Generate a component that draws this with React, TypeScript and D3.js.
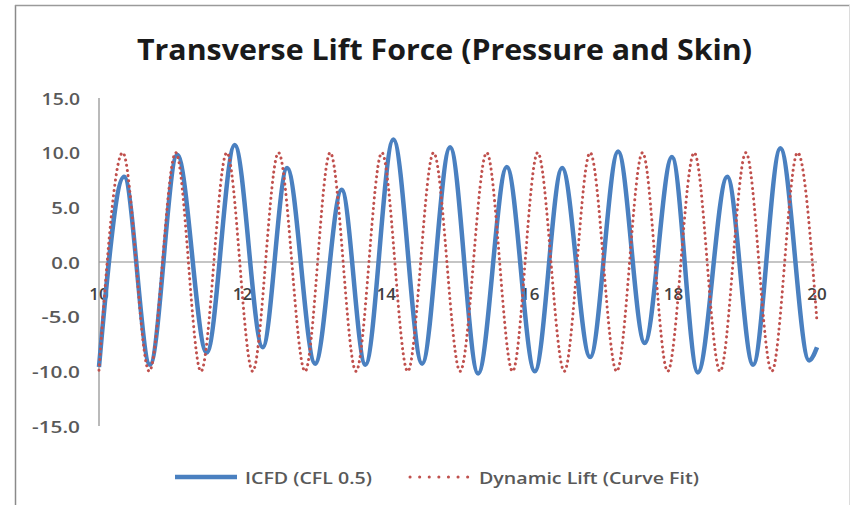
import React from 'react';
import * as d3 from 'd3';

const chartTitle = 'Transverse Lift Force (Pressure and Skin)';
const yTickValues = [15, 10, 5, 0, -5, -10, -15];
const xTickValues = [10, 12, 14, 16, 18, 20];
const seriesNames = ['ICFD (CFL 0.5)', 'Dynamic Lift (Curve Fit)'];

// ICFD series: start, alternating peaks / troughs, end
const icfdTime = [10.0, 10.35, 10.71, 11.09, 11.5, 11.89, 12.28, 12.62, 13.01, 13.38, 13.71, 14.1, 14.5, 14.89, 15.28, 15.68, 16.07, 16.45, 16.84, 17.23, 17.6, 17.98, 18.34, 18.75, 19.11, 19.49, 19.89, 20.0];
const icfdLift = [-9.6, 7.8, -9.4, 9.8, -8.3, 10.7, -7.8, 8.6, -9.3, 6.6, -9.4, 11.2, -9.3, 10.5, -10.2, 8.7, -10.0, 8.6, -8.7, 10.1, -7.4, 9.6, -10.1, 7.8, -9.4, 10.4, -9.0, -7.8];

// Dynamic lift curve fit: start, alternating peaks / troughs, end
const fitTime = [10.0, 10.33, 10.7, 11.07, 11.42, 11.78, 12.14, 12.5, 12.87, 13.22, 13.58, 13.94, 14.3, 14.66, 15.03, 15.4, 15.76, 16.11, 16.48, 16.84, 17.21, 17.57, 17.92, 18.29, 18.65, 19.01, 19.37, 19.73, 20.0];
const fitLift = [-9.9, 10.0, -10.0, 10.0, -10.0, 10.0, -10.0, 10.0, -10.0, 10.0, -10.0, 10.0, -10.0, 10.0, -10.0, 10.0, -10.0, 10.0, -10.0, 10.0, -10.0, 10.0, -10.0, 10.0, -10.0, 10.0, -10.0, 10.0, -5.5];

const W = 851;
const H = 505;
const FONT = '"Open Sans", "DejaVu Sans", sans-serif';
const BLUE = '#4a80c0';
const RED = '#c0504d';
const AXIS = '#8c8c8c';
const TEXT = '#595959';

export default function App() {
  const x = d3.scaleLinear().domain([10, 20]).range([99, 817]);
  const y = d3.scaleLinear().domain([-15, 15]).range([426, 98]);

  const line = d3
    .line<[number, number]>()
    .x((d) => x(d[0]))
    .y((d) => y(d[1]))
    .curve(d3.curveMonotoneX);

  const icfd: [number, number][] = icfdTime.map((t, i) => [t, icfdLift[i]]);
  const fit: [number, number][] = fitTime.map((t, i) => [t, fitLift[i]]);

  const legendY = 477;

  return (
    <svg
      width={W}
      height={H}
      viewBox={`0 0 ${W} ${H}`}
      style={{ position: 'absolute', left: 0, top: 0, background: '#fff' }}
    >
      <rect x={0} y={0} width={W} height={H} fill="#fff" />
      {/* chart border */}
      <line x1={15.5} y1={5} x2={15.5} y2={H} stroke="#8a8a8a" strokeWidth={1.5} />
      <line x1={15} y1={5.5} x2={850} y2={5.5} stroke="#9a9a9a" strokeWidth={1.5} />
      <line x1={849.5} y1={5} x2={849.5} y2={H} stroke="#dcdcdc" strokeWidth={1} />

      {/* title */}
      <text
        x={137}
        y={48}
        dominantBaseline="central"
        fontFamily={FONT}
        fontWeight={700}
        fontSize={29}
        textLength={615}
        lengthAdjust="spacingAndGlyphs"
        fill="#1a1a1a"
      >
        {chartTitle}
      </text>

      {/* y axis */}
      <line x1={x(10)} y1={y(15)} x2={x(10)} y2={y(-15)} stroke={AXIS} strokeWidth={1.2} />
      {yTickValues.map((v) => {
        const label = v.toFixed(1);
        return (
          <text
            key={`y${v}`}
            x={80}
            y={y(v)}
            textAnchor="end"
            dominantBaseline="central"
            fontFamily={FONT}
            fontSize={17}
            fontWeight={600}
            textLength={label.length * 9.6}
            lengthAdjust="spacingAndGlyphs"
            fill={TEXT}
          >
            {label}
          </text>
        );
      })}

      {/* x axis at zero */}
      <line x1={x(10)} y1={y(0)} x2={x(20)} y2={y(0)} stroke={AXIS} strokeWidth={1.2} />
      {xTickValues.map((v) => (
        <text
          key={`x${v}`}
          x={x(v)}
          y={293}
          textAnchor="middle"
          dominantBaseline="central"
          fontFamily={FONT}
          fontSize={17}
          fontWeight={600}
          fill="#404040"
        >
          {v}
        </text>
      ))}

      {/* series */}
      <path d={line(icfd) || ''} fill="none" stroke={BLUE} strokeWidth={4.5} strokeLinejoin="round" />
      <path
        d={line(fit) || ''}
        fill="none"
        stroke={RED}
        strokeWidth={3}
        strokeDasharray="0.1 5.2"
        strokeLinecap="round"
      />

      {/* legend */}
      <line x1={175} y1={legendY} x2={237} y2={legendY} stroke={BLUE} strokeWidth={4.5} />
      <text
        x={245}
        y={legendY}
        dominantBaseline="central"
        fontFamily={FONT}
        fontSize={17}
        fontWeight={600}
        textLength={127}
        lengthAdjust="spacingAndGlyphs"
        fill={TEXT}
      >
        {seriesNames[0]}
      </text>
      <line
        x1={410}
        y1={legendY}
        x2={468}
        y2={legendY}
        stroke={RED}
        strokeWidth={3}
        strokeDasharray="0.1 9.5"
        strokeLinecap="round"
      />
      <text
        x={479}
        y={legendY}
        dominantBaseline="central"
        fontFamily={FONT}
        fontSize={17}
        fontWeight={600}
        textLength={220}
        lengthAdjust="spacingAndGlyphs"
        fill={TEXT}
      >
        {seriesNames[1]}
      </text>
    </svg>
  );
}
